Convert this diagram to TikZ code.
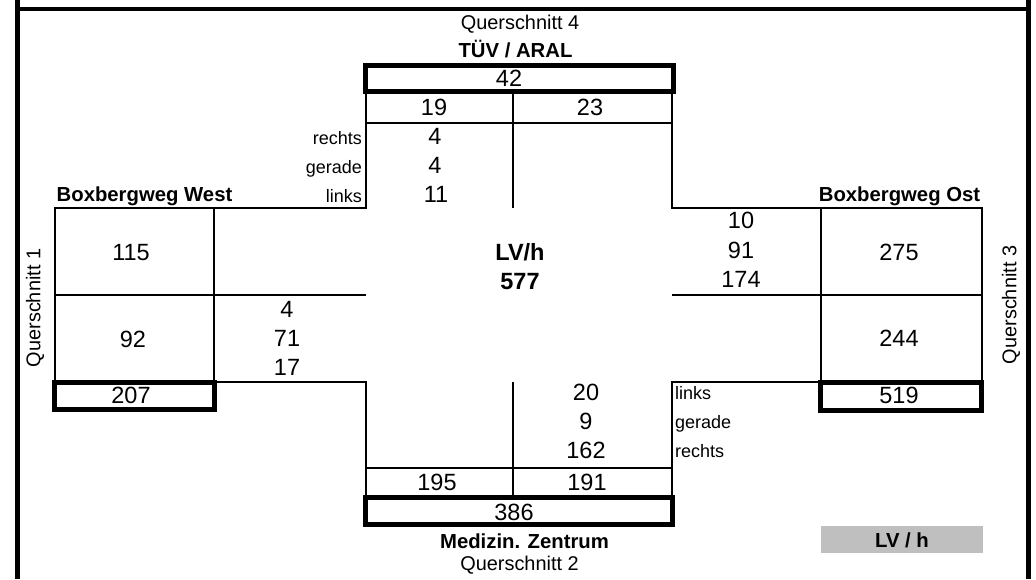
\documentclass[tikz,border=0pt]{standalone}
\usepackage{fontspec}
\setmainfont{Liberation Sans}
\begin{document}
\begin{tikzpicture}[x=1pt,y=-1pt,
  frame/.style={line width=4.6pt},
  thinline/.style={line width=2.8pt},
  thickbox/.style={line width=5pt},
  num/.style={font=\fontsize{23.5}{25}\selectfont, inner sep=0pt, anchor=base},
  bnum/.style={font=\fontsize{23.5}{25}\selectfont\bfseries, inner sep=0pt, anchor=base},
  lbl/.style={font=\fontsize{19.9}{21}\selectfont, inner sep=0pt, anchor=base},
  blbl/.style={font=\fontsize{20.3}{22}\selectfont\bfseries, inner sep=0pt, anchor=base},
  small/.style={font=\fontsize{18}{19}\selectfont, inner sep=0pt},
  vlbl/.style={font=\fontsize{19.9}{21}\selectfont, inner sep=0pt, rotate=90, anchor=center}]
\useasboundingbox (0,0) rectangle (1036,579);
% outer frame
\draw[frame] (17.5,0) -- (17.5,579);
\draw[frame] (1028.5,0) -- (1028.5,579);
\draw[frame] (15.2,9) -- (1030.8,9);
% north arm
\draw[thinline] (214,208) -- (366,208) -- (366,91) -- (672,91) -- (672,208) -- (821,208);
\draw[thinline] (366,123) -- (672,123);
\draw[thinline] (513,91) -- (513,208);
\draw[thickbox] (365.5,65.5) rectangle (673,91);
% west arm
\draw[thinline] (55,382) -- (55,208) -- (214,208) -- (214,382);
\draw[thinline] (55,295) -- (366,295);
\draw[thinline] (214,382) -- (366,382) -- (366,468);
\draw[thickbox] (54.5,382.5) rectangle (214.5,409.5);
% east arm
\draw[thinline] (821,382) -- (821,208) -- (982,208) -- (982,382);
\draw[thinline] (672,295) -- (982,295);
\draw[thinline] (821,382) -- (672,382) -- (672,468);
\draw[thickbox] (820.5,382) rectangle (981.5,410);
% south arm
\draw[thinline] (366,468) rectangle (672,497.5);
\draw[thinline] (513,382) -- (513,497.5);
\draw[thickbox] (365.5,497.5) rectangle (672,524.5);
% legend
\fill[gray!50] (821,526) rectangle (983,553);

% texts north
\node[lbl] (q4) at (520,29) {Querschnitt 4};
\node[blbl] (tuev) at (515.5,57) {TÜV / ARAL};
\node[num] (n42) at (509,86) {42};
\node[num] (n19) at (434,115) {19};
\node[num] (n23) at (590,115) {23};
\node[small, anchor=base east] (nr) at (362,144) {rechts};
\node[small, anchor=base east] (ng) at (362,173) {gerade};
\node[small, anchor=base east] (nl) at (362,202) {links};
\node[num] (nr4) at (435,144) {4};
\node[num] (ng4) at (435,173) {4};
\node[num] (nl11) at (436,202) {11};
% west
\node[blbl] (bw) at (144.5,201) {Boxbergweg West};
\node[vlbl] (q1) at (35,308) {Querschnitt 1};
\node[num] (w115) at (131,260) {115};
\node[num] (w92) at (133,347) {92};
\node[num] (w207) at (131,403) {207};
\node[num] (w4) at (287,317) {4};
\node[num] (w71) at (287,346) {71};
\node[num] (w17) at (287,375) {17};
% centre
\node[bnum] (lvh) at (520,260) {LV/h};
\node[bnum] (tot) at (520,289) {577};
% east
\node[blbl] (bo) at (899.5,201) {Boxbergweg Ost};
\node[vlbl] (q3) at (1011,305) {Querschnitt 3};
\node[num] (e10) at (741,228) {10};
\node[num] (e91) at (741,258) {91};
\node[num] (e174) at (741,287) {174};
\node[num] (e275) at (899,260) {275};
\node[num] (e244) at (899,346) {244};
\node[num] (e519) at (899,403) {519};
% south
\node[num] (s20) at (586,400) {20};
\node[num] (s9) at (586,429) {9};
\node[num] (s162) at (586,458) {162};
\node[small, anchor=base west] (sl) at (675,399) {links};
\node[small, anchor=base west] (sg) at (675,428) {gerade};
\node[small, anchor=base west] (sr) at (675,457) {rechts};
\node[num] (s195) at (437,490) {195};
\node[num] (s191) at (587,490) {191};
\node[num] (s386) at (514,520) {386};
\node[blbl] (med) at (524.5,548) {Medizin. Zentrum};
\node[lbl] (q2) at (519.5,570) {Querschnitt 2};
\node[blbl] (leg) at (902,547) {LV / h};
\end{tikzpicture}
\end{document}
